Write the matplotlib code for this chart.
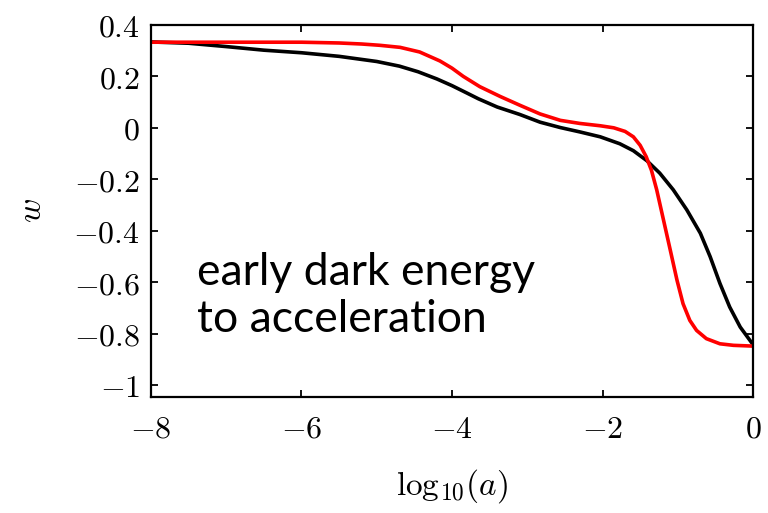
import matplotlib
matplotlib.use("Agg")
import matplotlib.pyplot as plt

plt.rcParams["mathtext.fontset"] = "cm"
plt.rcParams["font.family"] = ["DejaVu Serif"]

# equation of state w(a) for the two models
loga_black = [-8.0, -7.5, -7.0, -6.5, -6.0, -5.5, -5.0, -4.7, -4.45, -4.2, -4.0,
              -3.8, -3.65, -3.4, -3.1, -2.83, -2.56, -2.3, -2.03, -1.77, -1.59,
              -1.41, -1.24, -1.06, -0.88, -0.7, -0.57, -0.44, -0.31, -0.17, 0.0]
w_black = [0.334, 0.329, 0.316, 0.302, 0.292, 0.278, 0.258, 0.240, 0.218, 0.190,
           0.164, 0.135, 0.113, 0.081, 0.052, 0.022, 0.001, -0.016, -0.035,
           -0.062, -0.089, -0.128, -0.176, -0.241, -0.319, -0.410, -0.501,
           -0.605, -0.697, -0.775, -0.843]

loga_red = [-8.0, -7.0, -6.0, -5.5, -5.2, -4.96, -4.69, -4.43, -4.16, -4.0, -3.85,
            -3.63, -3.36, -3.1, -2.83, -2.56, -2.3, -2.03, -1.85, -1.7, -1.59,
            -1.5, -1.42, -1.35, -1.28, -1.19, -1.1, -1.01, -0.93, -0.84, -0.75,
            -0.62, -0.44, -0.26, 0.0]
w_red = [0.333, 0.333, 0.333, 0.330, 0.326, 0.321, 0.313, 0.295, 0.260, 0.232,
         0.200, 0.160, 0.122, 0.088, 0.054, 0.029, 0.017, 0.008, 0.000, -0.014,
         -0.035, -0.068, -0.112, -0.165, -0.241, -0.358, -0.475, -0.593, -0.684,
         -0.749, -0.788, -0.820, -0.840, -0.846, -0.849]

xticks = [-8, -6, -4, -2, 0]
yticks = [0.4, 0.2, 0, -0.2, -0.4, -0.6, -0.8, -1]


def tick_text(v):
    return r"$%g$" % v


fig = plt.figure(figsize=(7.68, 5.13), dpi=100)
ax = fig.add_axes([0.1966, 0.2261, 0.7839, 0.7252])

ax.plot(loga_black, w_black, color="black", lw=2.6, solid_joinstyle="round")
ax.plot(loga_red, w_red, color="#ff0000", lw=2.6, solid_joinstyle="round")

ax.set_xlim(-8, 0)
ax.set_ylim(-1.047, 0.4)
ax.set_xticks(xticks)
ax.set_xticklabels([tick_text(v) for v in xticks], fontsize=23)
ax.set_yticks(yticks)
ax.set_yticklabels([tick_text(v) for v in yticks], fontsize=23)
ax.tick_params(axis="both", direction="in", length=5, width=1.3, top=True, right=True)
ax.tick_params(axis="x", pad=12)
ax.tick_params(axis="y", pad=8)
for s in ax.spines.values():
    s.set_linewidth(1.6)

ax.set_xlabel(r"$\mathrm{log}_{10}(a)$", fontsize=24, labelpad=16)
ax.set_ylabel(r"$w$", fontsize=24, labelpad=18)

ax.text(-7.39, -0.795, "early dark energy\nto acceleration", fontsize=32,
        family="Lato", ha="left", va="baseline", linespacing=1.2)

fig.savefig("out.png", dpi=100)
